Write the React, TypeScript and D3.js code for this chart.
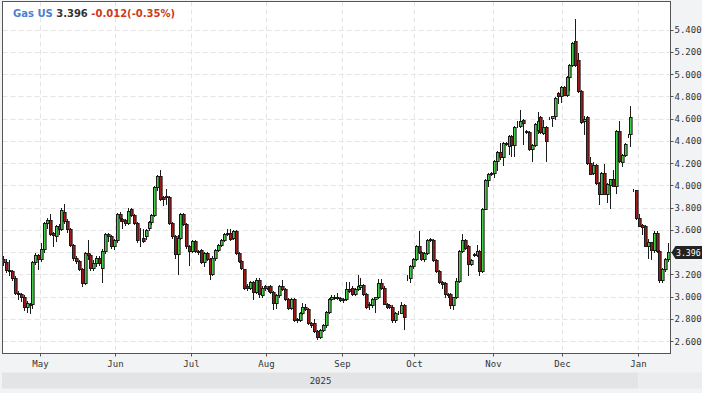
import React, { useRef, useEffect } from 'react';
import * as d3 from 'd3';

// each bar: [open, high, low, close]
type Bar = [number, number, number, number];

const apr: Bar[] = [
  [3.34, 3.36, 3.28, 3.31], [3.31, 3.34, 3.22, 3.24], [3.24, 3.33, 3.19, 3.23], [3.23, 3.24, 3.15, 3.17],
  [3.17, 3.18, 3.02, 3.03], [3.03, 3.05, 2.98, 3.02], [3.02, 3.03, 2.96, 3.0], [3.0, 3.01, 2.88, 2.91],
  [2.91, 2.96, 2.86, 2.94], [2.92, 2.94, 2.85, 2.93], [2.93, 3.32, 2.9, 3.31], [3.31, 3.39, 3.29, 3.37],
  [3.37, 3.38, 3.25, 3.34],
];
const may: Bar[] = [
  [3.34, 3.48, 3.32, 3.43], [3.43, 3.67, 3.4, 3.66], [3.66, 3.71, 3.62, 3.69], [3.69, 3.74, 3.55, 3.56],
  [3.57, 3.58, 3.45, 3.55], [3.54, 3.64, 3.5, 3.63], [3.63, 3.65, 3.56, 3.61], [3.61, 3.8, 3.6, 3.78],
  [3.76, 3.83, 3.66, 3.68], [3.68, 3.7, 3.58, 3.61], [3.61, 3.62, 3.45, 3.46], [3.46, 3.47, 3.33, 3.35],
  [3.35, 3.36, 3.3, 3.32], [3.32, 3.33, 3.24, 3.25], [3.25, 3.26, 3.09, 3.12], [3.12, 3.4, 3.11, 3.39],
  [3.39, 3.51, 3.34, 3.37], [3.37, 3.38, 3.24, 3.26], [3.26, 3.33, 3.24, 3.3], [3.3, 3.36, 3.27, 3.35],
  [3.35, 3.36, 3.28, 3.3], [3.26, 3.43, 3.13, 3.41], [3.41, 3.57, 3.39, 3.56], [3.56, 3.57, 3.5, 3.54],
  [3.54, 3.55, 3.44, 3.45], [3.45, 3.52, 3.43, 3.51],
];
const jun: Bar[] = [
  [3.51, 3.75, 3.49, 3.74], [3.74, 3.76, 3.68, 3.71], [3.7, 3.71, 3.62, 3.68], [3.69, 3.7, 3.64, 3.66],
  [3.66, 3.8, 3.65, 3.77], [3.79, 3.8, 3.72, 3.73], [3.73, 3.74, 3.65, 3.66], [3.66, 3.67, 3.49, 3.51],
  [3.51, 3.62, 3.45, 3.51], [3.53, 3.61, 3.49, 3.5], [3.54, 3.61, 3.52, 3.6], [3.62, 3.68, 3.6, 3.67],
  [3.67, 3.74, 3.65, 3.73], [3.73, 3.99, 3.72, 3.98], [3.98, 4.09, 3.96, 4.08], [4.08, 4.14, 3.87, 3.88],
  [3.89, 3.9, 3.82, 3.88], [3.9, 3.97, 3.83, 3.89], [3.89, 3.9, 3.65, 3.66], [3.66, 3.67, 3.53, 3.54],
  [3.54, 3.55, 3.35, 3.38], [3.38, 3.55, 3.2, 3.53], [3.53, 3.75, 3.52, 3.74], [3.74, 3.75, 3.64, 3.65],
  [3.65, 3.66, 3.44, 3.45], [3.45, 3.46, 3.28, 3.41],
];
const jul: Bar[] = [
  [3.41, 3.51, 3.4, 3.5], [3.5, 3.51, 3.4, 3.41], [3.41, 3.42, 3.38, 3.4], [3.42, 3.43, 3.3, 3.31],
  [3.31, 3.4, 3.27, 3.39], [3.39, 3.4, 3.33, 3.34], [3.34, 3.35, 3.16, 3.2], [3.2, 3.36, 3.19, 3.35],
  [3.35, 3.43, 3.33, 3.42], [3.42, 3.47, 3.41, 3.46], [3.46, 3.52, 3.45, 3.51], [3.51, 3.57, 3.5, 3.56],
  [3.56, 3.61, 3.55, 3.57], [3.57, 3.61, 3.51, 3.52], [3.53, 3.6, 3.52, 3.59], [3.59, 3.6, 3.38, 3.39],
  [3.39, 3.4, 3.31, 3.32], [3.32, 3.33, 3.25, 3.26], [3.25, 3.25, 3.07, 3.08], [3.09, 3.11, 3.06, 3.08],
  [3.08, 3.14, 3.07, 3.13], [3.13, 3.14, 2.98, 3.04], [3.04, 3.17, 3.03, 3.15], [3.15, 3.17, 3.0, 3.02],
  [3.01, 3.09, 3.0, 3.08], [3.09, 3.1, 3.06, 3.08],
];
const aug: Bar[] = [
  [3.08, 3.09, 3.05, 3.07], [3.09, 3.1, 3.03, 3.04], [3.04, 3.05, 2.89, 2.94], [2.94, 3.02, 2.9, 3.01],
  [3.01, 3.1, 3.0, 3.09], [3.09, 3.15, 3.06, 3.07], [3.07, 3.08, 2.97, 2.98], [2.98, 2.99, 2.89, 2.9],
  [2.9, 2.99, 2.89, 2.98], [2.98, 2.99, 2.78, 2.79], [2.8, 2.81, 2.77, 2.79], [2.79, 2.86, 2.78, 2.85],
  [2.85, 2.94, 2.84, 2.91], [2.91, 2.93, 2.88, 2.89], [2.89, 2.9, 2.75, 2.76], [2.76, 2.77, 2.73, 2.745],
  [2.76, 2.8, 2.68, 2.69], [2.69, 2.7, 2.62, 2.64], [2.64, 2.71, 2.63, 2.7], [2.7, 2.75, 2.69, 2.74],
  [2.74, 2.87, 2.73, 2.86], [2.86, 2.99, 2.85, 2.98], [2.98, 3.01, 2.97, 3.0], [3.0, 3.01, 2.98, 2.99],
  [3.0, 3.03, 2.98, 2.99], [2.99, 3.0, 2.96, 2.97],
];
const sep: Bar[] = [
  [2.97, 2.99, 2.95, 2.98], [2.98, 3.13, 2.97, 3.07], [3.07, 3.13, 3.04, 3.05], [3.08, 3.09, 3.01, 3.02],
  [3.02, 3.08, 3.01, 3.07], [3.07, 3.19, 3.06, 3.09], [3.085, 3.17, 3.07, 3.1], [3.1, 3.11, 3.01, 3.02],
  [3.02, 3.03, 2.9, 2.91], [2.93, 2.95, 2.89, 2.92], [2.92, 2.99, 2.91, 2.98], [2.98, 3.0, 2.86, 2.995],
  [2.995, 3.16, 2.99, 3.12], [3.12, 3.16, 3.07, 3.08], [3.08, 3.09, 2.93, 2.935], [2.935, 2.94, 2.9, 2.91],
  [2.92, 2.93, 2.9, 2.91], [2.91, 2.92, 2.77, 2.79], [2.79, 2.86, 2.77, 2.85], [2.85, 2.87, 2.84, 2.855],
  [2.855, 2.95, 2.85, 2.92], [2.92, 2.93, 2.71, 2.82], [3.17, 3.19, 3.15, 3.165], [3.165, 3.28, 3.13, 3.27],
  [3.27, 3.35, 3.26, 3.34],
];
const oct: Bar[] = [
  [3.34, 3.46, 3.33, 3.45], [3.45, 3.59, 3.39, 3.4], [3.4, 3.41, 3.33, 3.34], [3.34, 3.4, 3.32, 3.39],
  [3.39, 3.52, 3.38, 3.51], [3.51, 3.53, 3.5, 3.52], [3.51, 3.52, 3.32, 3.33], [3.33, 3.34, 3.22, 3.23],
  [3.23, 3.24, 3.12, 3.13], [3.13, 3.14, 3.08, 3.11], [3.12, 3.13, 3.0, 3.02], [3.01, 3.03, 3.0, 3.025],
  [3.025, 3.03, 2.9, 2.92], [2.92, 3.0, 2.89, 2.995], [2.995, 3.17, 2.99, 3.14], [3.14, 3.42, 3.13, 3.41],
  [3.41, 3.56, 3.4, 3.51], [3.51, 3.52, 3.43, 3.44], [3.45, 3.46, 3.19, 3.29], [3.29, 3.34, 3.28, 3.33],
  [3.38, 3.39, 3.36, 3.37], [3.37, 3.46, 3.36, 3.41], [3.41, 3.42, 3.19, 3.23], [3.23, 3.8, 3.22, 3.79],
  [3.79, 4.06, 3.79, 4.05], [4.05, 4.11, 3.99, 4.1], [4.1, 4.12, 4.09, 4.11],
];
const nov: Bar[] = [
  [4.11, 4.23, 4.07, 4.22], [4.22, 4.31, 4.14, 4.3], [4.3, 4.38, 4.24, 4.25], [4.25, 4.39, 4.18, 4.38],
  [4.38, 4.39, 4.36, 4.37], [4.35, 4.45, 4.28, 4.44], [4.44, 4.45, 4.26, 4.36], [4.36, 4.53, 4.26, 4.52],
  [4.53, 4.58, 4.52, 4.53], [4.53, 4.68, 4.52, 4.58], [4.59, 4.6, 4.37, 4.56], [4.49, 4.5, 4.47, 4.48],
  [4.48, 4.49, 4.32, 4.33], [4.33, 4.37, 4.22, 4.36], [4.36, 4.56, 4.35, 4.55], [4.5, 4.66, 4.47, 4.58],
  [4.61, 4.62, 4.47, 4.48], [4.47, 4.59, 4.46, 4.52], [4.52, 4.53, 4.22, 4.4], [4.606, 4.61, 4.6, 4.606],
  [4.606, 4.62, 4.53, 4.62], [4.62, 4.79, 4.6, 4.78], [4.83, 4.84, 4.74, 4.8], [4.8, 4.89, 4.75, 4.88],
];
const dec: Bar[] = [
  [4.88, 4.89, 4.81, 4.815], [4.815, 4.98, 4.8, 4.97], [4.97, 5.09, 4.86, 5.08], [5.08, 5.29, 5.07, 5.28],
  [5.3, 5.49, 5.07, 5.08], [5.13, 5.19, 4.84, 4.85], [4.85, 4.86, 4.56, 4.57], [4.58, 4.62, 4.46, 4.6],
  [4.61, 4.62, 4.19, 4.2], [4.2, 4.25, 4.1, 4.105], [4.11, 4.21, 4.1, 4.18], [4.18, 4.19, 4.01, 4.02],
  [4.02, 4.03, 3.83, 3.925], [3.925, 4.12, 3.92, 4.11], [4.11, 4.19, 3.92, 3.925], [3.925, 4.02, 3.845, 4.01],
  [4.003, 4.06, 3.8, 4.054], [4.054, 4.135, 3.99, 3.994], [3.994, 4.5, 3.934, 4.49], [4.49, 4.58, 4.21, 4.22],
  [4.21, 4.28, 4.17, 4.27], [4.27, 4.38, 4.26, 4.37], [4.45, 4.46, 4.43, 4.45], [4.46, 4.71, 4.35, 4.61],
  [3.96, 3.97, 3.95, 3.955], [3.955, 3.96, 3.7, 3.705],
];
const jan: Bar[] = [
  [3.705, 3.74, 3.63, 3.636], [3.64, 3.65, 3.56, 3.627], [3.636, 3.64, 3.45, 3.457], [3.457, 3.52, 3.35, 3.487],
  [3.487, 3.49, 3.34, 3.419], [3.419, 3.59, 3.4, 3.568], [3.568, 3.59, 3.4, 3.413], [3.413, 3.42, 3.13, 3.144],
  [3.144, 3.26, 3.13, 3.249], [3.249, 3.35, 3.23, 3.338], [3.338, 3.48, 3.32, 3.396],
];

const months = [
  { label: 'Apr', bars: apr },
  { label: 'May', bars: may },
  { label: 'Jun', bars: jun },
  { label: 'Jul', bars: jul },
  { label: 'Aug', bars: aug },
  { label: 'Sep', bars: sep },
  { label: 'Oct', bars: oct },
  { label: 'Nov', bars: nov },
  { label: 'Dec', bars: dec },
  { label: 'Jan', bars: jan },
];

const priceTicks = [2.6, 2.8, 3.0, 3.2, 3.4, 3.6, 3.8, 4.0, 4.2, 4.4, 4.6, 4.8, 5.0, 5.2, 5.4];
const symbol = 'Gas US';
const lastPrice = 3.396;
const changeText = '-0.012(-0.35%)';
const yearLabel = '2025';

export default function App() {
  const svgRef = useRef<SVGSVGElement>(null);

  useEffect(() => {
    const W = 702, H = 393;
    const left = 2.5, top = 1.5, right = 670.5, bottom = 353.5;
    const svg = d3.select(svgRef.current);
    svg.selectAll('*').remove();
    svg.attr('width', W).attr('height', H);

    const bars: Bar[] = months.flatMap((m) => m.bars);
    const starts: number[] = [];
    let acc = 0;
    months.forEach((m) => { starts.push(acc); acc += m.bars.length; });

    const x = d3.scaleLinear().domain([0, bars.length - 1]).range([3.4, 3.4 + (bars.length - 1) * 2.903]);
    const y = d3.scaleLinear().domain([2.6, 5.4]).range([341, 29.5]);
    const fmt = d3.format('.3f');
    const mono = 'DejaVu Sans Mono, monospace';

    svg.append('rect').attr('width', W).attr('height', H).attr('fill', '#f2f3f5');
    svg.append('rect').attr('x', left).attr('y', top).attr('width', right - left).attr('height', bottom - top)
      .attr('fill', '#fff');

    // grid
    svg.append('g').selectAll('line').data(priceTicks).join('line')
      .attr('x1', left).attr('x2', right)
      .attr('y1', (d) => Math.round(y(d)) + 0.5).attr('y2', (d) => Math.round(y(d)) + 0.5)
      .attr('stroke', '#e4e4e4').attr('stroke-dasharray', '5,3');
    const bounds = months.slice(1).map((m, k) => ({ label: m.label, px: Math.round(x(starts[k + 1] - 0.5)) + 0.5 }));
    svg.append('g').selectAll('line').data(bounds).join('line')
      .attr('x1', (d) => d.px).attr('x2', (d) => d.px)
      .attr('y1', top).attr('y2', bottom)
      .attr('stroke', '#e4e4e4').attr('stroke-dasharray', '5,3');

    // candles
    const g = svg.append('g');
    const c = g.selectAll('g').data(bars).join('g')
      .attr('transform', (d, i) => `translate(${Math.round(x(i))},0)`);
    c.append('line')
      .attr('x1', 0.5).attr('x2', 0.5)
      .attr('y1', (d) => Math.round(y(d[1]))).attr('y2', (d) => Math.round(y(d[2])) + 1)
      .attr('stroke', '#1c1c1c');
    c.append('rect')
      .attr('x', -0.5).attr('width', 2.6)
      .attr('y', (d) => Math.round(y(Math.max(d[0], d[3]))) + 0.5)
      .attr('height', (d) => Math.round(y(Math.min(d[0], d[3]))) - Math.round(y(Math.max(d[0], d[3]))))
      .attr('fill', (d) => (d[3] >= d[0] ? '#44cc44' : '#a01818'))
      .attr('stroke', '#1a1a1a');

    // frame
    svg.append('rect').attr('x', left).attr('y', top).attr('width', right - left).attr('height', bottom - top)
      .attr('fill', 'none').attr('stroke', '#555');

    // right axis
    const ra = svg.append('g');
    ra.selectAll('line').data(priceTicks).join('line')
      .attr('x1', right).attr('x2', right + 3)
      .attr('y1', (d) => Math.round(y(d)) + 0.5).attr('y2', (d) => Math.round(y(d)) + 0.5)
      .attr('stroke', '#555');
    ra.selectAll('text').data(priceTicks).join('text')
      .attr('x', right + 4).attr('y', (d) => y(d) + 3.5)
      .attr('font-family', mono).attr('font-size', 9).attr('fill', '#333')
      .text((d) => fmt(d));

    // last price marker
    const ly = Math.round(y(lastPrice)) + 0.5;
    svg.append('path')
      .attr('d', `M${right + 1},${ly} L${right + 5},${ly - 6.5} L${W},${ly - 6.5} L${W},${ly + 6.5} L${right + 5},${ly + 6.5} Z`)
      .attr('fill', '#222');
    svg.append('text').attr('x', right + 5.5).attr('y', ly + 3.2)
      .attr('font-family', mono).attr('font-size', 8.2).attr('fill', '#fff')
      .text(fmt(lastPrice));

    // bottom axis
    svg.append('g').selectAll('line').data(bounds).join('line')
      .attr('x1', (d) => d.px).attr('x2', (d) => d.px)
      .attr('y1', bottom).attr('y2', bottom + 3)
      .attr('stroke', '#555');
    svg.append('g').selectAll('text').data(bounds).join('text')
      .attr('x', (d) => d.px).attr('y', 366.5)
      .attr('text-anchor', 'middle')
      .attr('font-family', mono).attr('font-size', 9).attr('fill', '#333')
      .text((d) => d.label);

    const janX = bounds[bounds.length - 1].px;
    svg.append('rect').attr('x', left - 0.5).attr('y', 372.5).attr('width', janX - left).attr('height', 16)
      .attr('fill', '#e3e4e6');
    svg.append('rect').attr('x', janX).attr('y', 372.5).attr('width', W - janX).attr('height', 16)
      .attr('fill', '#ebecee');
    svg.append('text').attr('x', (left + janX) / 2).attr('y', 384)
      .attr('text-anchor', 'middle')
      .attr('font-family', mono).attr('font-size', 9).attr('fill', '#333')
      .text(yearLabel);

    // header
    const t = svg.append('text').attr('x', 13).attr('y', 17)
      .attr('font-family', 'DejaVu Sans, sans-serif').attr('font-size', 10).attr('font-weight', 'bold');
    t.append('tspan').attr('fill', '#4b7fd6').text(symbol);
    t.append('tspan').attr('fill', '#333').text(' ' + fmt(lastPrice));
    t.append('tspan').attr('fill', '#cc3a1d').text(' ' + changeText);
  }, []);

  return (
    <div>
      <style>{'body{margin:0;overflow:hidden;}'}</style>
      <svg ref={svgRef} style={{ display: 'block' }} />
    </div>
  );
}
